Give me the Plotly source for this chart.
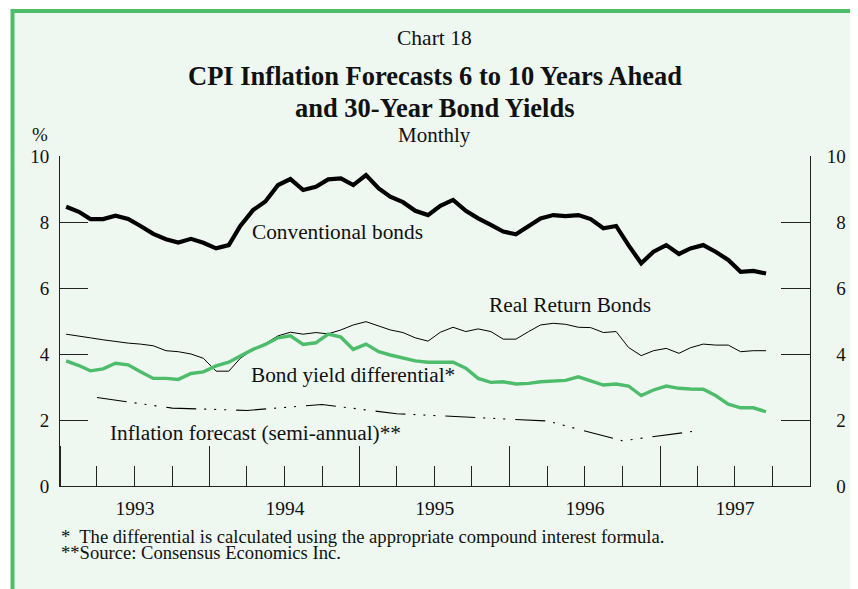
import pandas as pd
import plotly.graph_objects as go

# ---- data ----
monthly_start = "1993-01-01"
n_months = 57  # Jan 1993 .. Sep 1997
conventional = [8.46, 8.31, 8.09, 8.09, 8.19, 8.09, 7.88, 7.64, 7.48, 7.38, 7.49, 7.37,
                7.20, 7.30, 7.88, 8.36, 8.62, 9.12, 9.30, 8.97, 9.07, 9.29, 9.32, 9.12,
                9.42, 9.02, 8.77, 8.60, 8.34, 8.21, 8.49, 8.67, 8.34, 8.11, 7.91, 7.71,
                7.63, 7.88, 8.11, 8.21, 8.18, 8.21, 8.09, 7.81, 7.88, 7.30, 6.75, 7.10,
                7.30, 7.03, 7.20, 7.30, 7.10, 6.85, 6.49, 6.52, 6.44]
real_return = [4.60, 4.55, 4.49, 4.43, 4.37, 4.33, 4.30, 4.25, 4.10, 4.07, 4.00, 3.87,
               3.48, 3.48, 3.87, 4.14, 4.32, 4.55, 4.66, 4.60, 4.65, 4.61, 4.73, 4.88,
               4.98, 4.86, 4.73, 4.65, 4.49, 4.39, 4.66, 4.81, 4.68, 4.76, 4.68, 4.45,
               4.45, 4.68, 4.88, 4.93, 4.90, 4.81, 4.80, 4.65, 4.68, 4.20, 3.95, 4.10,
               4.17, 4.02, 4.19, 4.30, 4.27, 4.27, 4.07, 4.10, 4.10]
differential = [3.79, 3.65, 3.49, 3.55, 3.72, 3.67, 3.46, 3.26, 3.26, 3.23, 3.41, 3.46,
                3.64, 3.75, 3.94, 4.14, 4.29, 4.49, 4.55, 4.29, 4.34, 4.60, 4.51, 4.14,
                4.30, 4.07, 3.97, 3.89, 3.79, 3.75, 3.75, 3.75, 3.57, 3.26, 3.14, 3.16,
                3.09, 3.11, 3.16, 3.19, 3.20, 3.31, 3.18, 3.06, 3.09, 3.03, 2.74, 2.91,
                3.03, 2.96, 2.94, 2.93, 2.74, 2.48, 2.37, 2.37, 2.25]
forecast_dates = ["1993-04-01", "1993-10-01", "1994-04-01", "1994-10-01", "1995-04-01",
                  "1995-10-01", "1996-04-01", "1996-10-01", "1997-04-01"]
forecast = [2.68, 2.36, 2.29, 2.47, 2.19, 2.07, 1.97, 1.37, 1.67]
y_ticks = [0, 2, 4, 6, 8, 10]
x_range = ["1993-01-01", "1998-01-01"]

months = pd.date_range(monthly_start, periods=n_months, freq="MS") + pd.Timedelta(days=15)

FONT = "Liberation Serif"
BG = "#EEF8F1"
GREEN = "#4DBD6C"
INK = "#111111"

fig = go.Figure()
fig.add_trace(go.Scatter(x=months, y=conventional, mode="lines",
                         line=dict(color="black", width=4.2), name="Conventional bonds"))
fig.add_trace(go.Scatter(x=months, y=real_return, mode="lines",
                         line=dict(color="black", width=1), name="Real Return Bonds"))
fig.add_trace(go.Scatter(x=months, y=differential, mode="lines",
                         line=dict(color=GREEN, width=3.4), name="Bond yield differential"))
fig.add_trace(go.Scatter(x=pd.to_datetime(forecast_dates), y=forecast, mode="lines",
                         line=dict(color="black", width=1.1,
                                   dash="30px,8px,2px,8px,2px,8px,2px,10px"),
                         name="Inflation forecast", yaxis="y2"))


# helpers: convert reference-picture pixels to paper coordinates
def px_x(px):
    return (px - 60) / 758


def px_y(py):
    return (486 - py) / 330


ann = []


def text(t, x, y, size, xanchor="center", bold=False):
    ann.append(dict(text=("<b>%s</b>" % t) if bold else t, x=x, y=y, xref="paper", yref="paper",
                    xanchor=xanchor, yanchor="middle", showarrow=False,
                    font=dict(family=FONT, size=size, color=INK)))


LAB = 21.3
FN = 18.6
text("Chart 18", px_x(438.5), px_y(45 - 0.34 * 21.5), 21.5)
text("CPI Inflation Forecasts 6 to 10 Years Ahead", px_x(439), px_y(85 - 0.34 * 26.5), 26.5, bold=True)
text("and 30-Year Bond Yields", px_x(439), px_y(117 - 0.34 * 26.5), 26.5, bold=True)
text("Monthly", px_x(438.5), px_y(142 - 0.34 * 21), 21)
text("%", px_x(40), px_y(141 - 0.34 * 19), 19)
text("Conventional bonds", px_x(252), px_y(239 - 0.34 * LAB), LAB, xanchor="left")
text("Real Return Bonds", px_x(492), px_y(312 - 0.34 * LAB), LAB, xanchor="left")
text("Bond yield differential*", px_x(251), px_y(382 - 0.34 * LAB), LAB, xanchor="left")
text("Inflation forecast (semi-annual)**", px_x(108.5), px_y(440 - 0.34 * LAB), LAB, xanchor="left")
text("*  The differential is calculated using the appropriate compound interest formula.",
     px_x(59), px_y(543 - 0.34 * FN), FN, xanchor="left")
text("**Source: Consensus Economics Inc.", px_x(59), px_y(559 - 0.34 * FN), FN, xanchor="left")

# the page body has an 8px margin, so the figure is 8px smaller than the window
fig.update_layout(
    width=850, height=581,
    margin=dict(l=52, r=40, t=148, b=103),
    paper_bgcolor="white", plot_bgcolor="rgba(0,0,0,0)",
    showlegend=False,
    font=dict(family=FONT, size=19, color=INK),
    annotations=ann,
    shapes=[dict(type="rect", xref="paper", yref="paper", layer="below",
                 x0=px_x(12), x1=px_x(920), y0=px_y(640), y1=px_y(11),
                 fillcolor=BG, line=dict(color=GREEN, width=4))],
    xaxis=dict(type="date", range=x_range, showgrid=False, zeroline=False,
               showline=True, linecolor="#222", linewidth=1,
               ticks="inside", ticklen=40, tickcolor="#222", tickwidth=1,
               dtick="M12", tick0="1993-01-01", tickformat="%Y", ticklabelmode="period",
               ticklabelposition="outside",
               tickfont=dict(family=FONT, size=19.5, color=INK), ticklabelstandoff=5,
               minor=dict(ticks="inside", ticklen=20, dtick="M3", tick0="1993-01-01",
                          tickcolor="#222", tickwidth=1, showgrid=False)),
    yaxis=dict(range=[0, 10], tickvals=y_ticks, showgrid=False, zeroline=False,
               showline=True, linecolor="#222", linewidth=1,
               ticks="inside", ticklen=28, tickcolor="#222", tickwidth=1,
               tickfont=dict(family=FONT, size=19, color=INK), ticklabelstandoff=6),
    yaxis2=dict(range=[0, 10], tickvals=y_ticks,
                ticktext=[("\u2007" + str(v)) if v < 10 else str(v) for v in y_ticks],
                overlaying="y", side="right", anchor="x",
                showgrid=False, zeroline=False,
                showline=True, linecolor="#222", linewidth=1,
                ticks="inside", ticklen=29, tickcolor="#222", tickwidth=1,
                tickfont=dict(family=FONT, size=19, color=INK), ticklabelstandoff=12),
)

fig.write_html("out.html")
